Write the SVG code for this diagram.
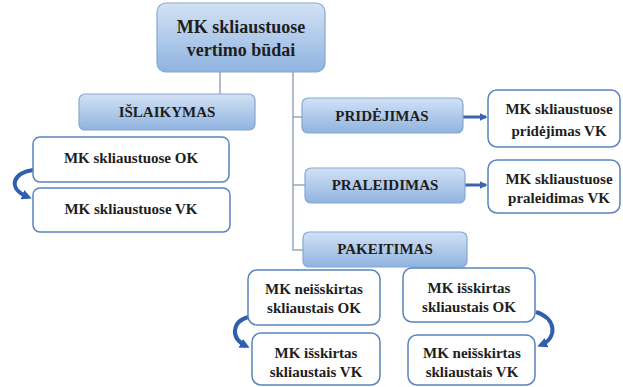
<svg xmlns="http://www.w3.org/2000/svg" width="623" height="387" viewBox="0 0 623 387">
<defs>
<linearGradient id="bg" x1="0" y1="0" x2="0" y2="1">
<stop offset="0" stop-color="#d3e2f4"/>
<stop offset="1" stop-color="#8fb3e0"/>
</linearGradient>
<marker id="ah" viewBox="0 0 10 10" refX="8" refY="5" markerWidth="8" markerHeight="8" orient="auto" markerUnits="userSpaceOnUse">
<path d="M0,0 L10,5 L0,10 z" fill="#3a65ad"/>
</marker>
<marker id="ch" viewBox="0 0 10 10" refX="6" refY="5" markerWidth="10" markerHeight="10" orient="auto" markerUnits="userSpaceOnUse">
<path d="M0,0 L10,5 L0,10 z" fill="#2f5fae"/>
</marker>
</defs>
<style>
.blue{fill:url(#bg);stroke:#86a7d2;stroke-width:1.2}
.white{fill:#ffffff;stroke:#5a84bf;stroke-width:1.5}
text{font-family:'Liberation Serif','DejaVu Serif',serif;font-weight:bold;fill:#1e1e1e;text-anchor:middle;font-size:15px}
.big{font-size:18px}
.ln{fill:none;stroke:#9aa7b8;stroke-width:1.5}
.ar{fill:none;stroke:#3a65ad;stroke-width:3}
.cv{fill:none;stroke:#2f5fae;stroke-width:4}
</style>
<rect width="623" height="387" fill="#ffffff"/>
<g id="connectors">
<path class="ln" d="M220,72 V95"/>
<path class="ln" d="M293,72 V250 H304"/>
<path class="ln" d="M293,117 H302"/>
<path class="ln" d="M293,185 H305"/>
<path class="ar" d="M463,117 H486" marker-end="url(#ah)"/>
<path class="ar" d="M465,185 H486" marker-end="url(#ah)"/>
<path class="cv" d="M33,170 C14,172 6,188 28,197" marker-end="url(#ch)"/>
<path class="cv" d="M248,317 C232,322 230,338 246,346" marker-end="url(#ch)"/>
<path class="cv" d="M536,312 C556,318 558,338 541,345" marker-end="url(#ch)"/>
</g>
<g id="root">
<rect class="blue" x="157" y="3" width="168" height="69" rx="9"/>
<text class="big" x="241" y="33">MK skliaustuose</text>
<text class="big" x="241" y="56">vertimo būdai</text>
</g>
<g id="islaikymas">
<rect class="blue" x="79" y="94" width="176" height="36" rx="6"/>
<text x="167" y="117">IŠLAIKYMAS</text>
</g>
<g id="ok1">
<rect class="white" x="33" y="137" width="196" height="45" rx="7"/>
<text x="131" y="163">MK skliaustuose OK</text>
</g>
<g id="vk1">
<rect class="white" x="33" y="188" width="197" height="44" rx="7"/>
<text x="131" y="214">MK skliaustuose VK</text>
</g>
<g id="pridejimas">
<rect class="blue" x="302" y="98" width="161" height="35" rx="6"/>
<text x="382" y="121">PRIDĖJIMAS</text>
</g>
<g id="pridejimas-vk">
<rect class="white" x="488" y="90" width="132" height="57" rx="9"/>
<text x="559" y="114">MK skliaustuose</text>
<text x="559" y="136">pridėjimas VK</text>
</g>
<g id="praleidimas">
<rect class="blue" x="305" y="168" width="160" height="35" rx="6"/>
<text x="385" y="190">PRALEIDIMAS</text>
</g>
<g id="praleidimas-vk">
<rect class="white" x="488" y="160" width="132" height="53" rx="9"/>
<text x="559" y="184">MK skliaustuose</text>
<text x="559" y="203">praleidimas VK</text>
</g>
<g id="pakeitimas">
<rect class="blue" x="303" y="232" width="164" height="35" rx="6"/>
<text x="385" y="254">PAKEITIMAS</text>
</g>
<g id="neis-ok">
<rect class="white" x="248" y="270" width="132" height="55" rx="9"/>
<text x="314" y="294">MK neišskirtas</text>
<text x="314" y="313">skliaustais OK</text>
</g>
<g id="is-vk">
<rect class="white" x="252" y="333" width="128" height="52" rx="9"/>
<text x="316" y="358">MK išskirtas</text>
<text x="316" y="377">skliaustais VK</text>
</g>
<g id="is-ok">
<rect class="white" x="403" y="268" width="132" height="54" rx="9"/>
<text x="469" y="293">MK išskirtas</text>
<text x="469" y="312">skliaustais OK</text>
</g>
<g id="neis-vk">
<rect class="white" x="408" y="335" width="127" height="50" rx="9"/>
<text x="472" y="358">MK neišskirtas</text>
<text x="472" y="377">skliaustais VK</text>
</g>
</svg>
